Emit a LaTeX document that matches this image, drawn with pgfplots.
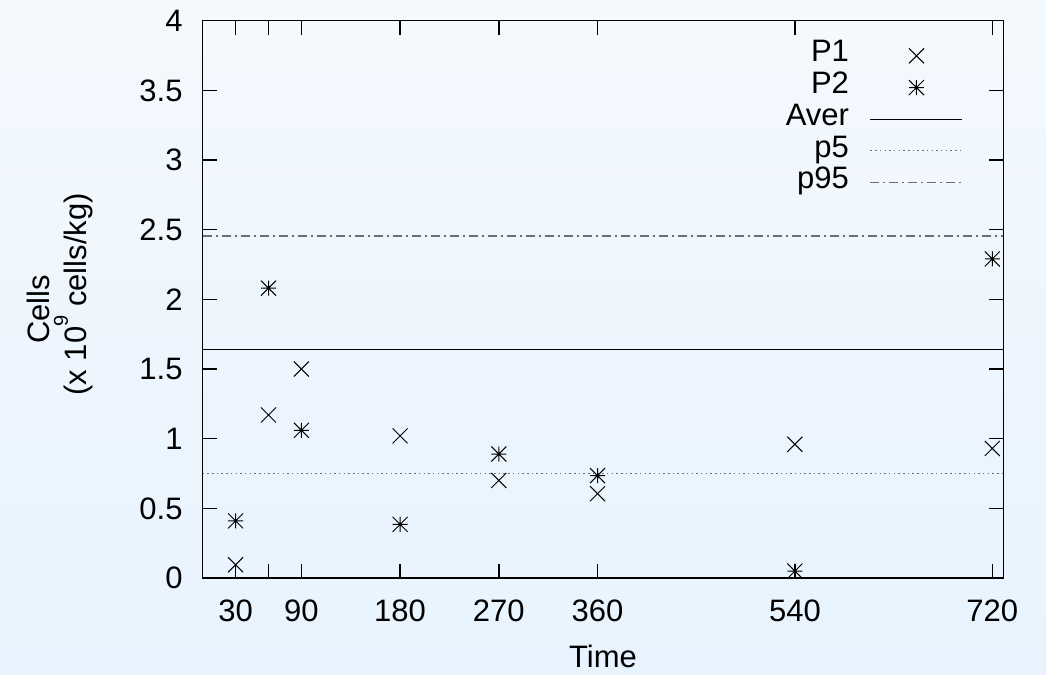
\documentclass[border=0pt]{standalone}
\usepackage{fontspec}
\setmainfont{Liberation Sans}
\usepackage{pgfplots}
\pgfplotsset{compat=1.18}

% gnuplot style marks: cross and eight-armed star
\pgfdeclareplotmark{gpx}{%
  \pgfpathmoveto{\pgfqpoint{-\pgfplotmarksize}{-\pgfplotmarksize}}%
  \pgfpathlineto{\pgfqpoint{\pgfplotmarksize}{\pgfplotmarksize}}%
  \pgfpathmoveto{\pgfqpoint{-\pgfplotmarksize}{\pgfplotmarksize}}%
  \pgfpathlineto{\pgfqpoint{\pgfplotmarksize}{-\pgfplotmarksize}}%
  \pgfusepathqstroke}
\pgfdeclareplotmark{gpstar}{%
  \pgfpathmoveto{\pgfqpoint{-\pgfplotmarksize}{-\pgfplotmarksize}}%
  \pgfpathlineto{\pgfqpoint{\pgfplotmarksize}{\pgfplotmarksize}}%
  \pgfpathmoveto{\pgfqpoint{-\pgfplotmarksize}{\pgfplotmarksize}}%
  \pgfpathlineto{\pgfqpoint{\pgfplotmarksize}{-\pgfplotmarksize}}%
  \pgfpathmoveto{\pgfqpoint{-\pgfplotmarksize}{0pt}}%
  \pgfpathlineto{\pgfqpoint{\pgfplotmarksize}{0pt}}%
  \pgfpathmoveto{\pgfqpoint{0pt}{-\pgfplotmarksize}}%
  \pgfpathlineto{\pgfqpoint{0pt}{\pgfplotmarksize}}%
  \pgfusepathqstroke}

\definecolor{bgtop}{RGB}{244,249,253}
\definecolor{bgbot}{RGB}{231,243,254}
\definecolor{gpgray}{RGB}{110,110,110}

\begin{document}
\begin{tikzpicture}
\useasboundingbox (-202.7bp,-97bp) rectangle (843.3bp,578bp);
\shade[top color=bgtop, bottom color=bgbot] (-202.7bp,-97bp) rectangle (843.3bp,578bp);
\begin{axis}[
    at={(0,0)}, anchor=south west,
    scale only axis,
    width=800.6bp, height=557.3bp,
    xmin=0, xmax=730,
    ymin=0, ymax=4,
    xtick={30,60,90,180,270,360,540,720},
    xticklabels={30,,90,180,270,360,540,720},
    ytick={0,0.5,...,4},
    /pgf/number format/assume math mode=true,
    tick align=inside,
    major tick length=14bp,
    tick style={line width=1.5bp, black},
    axis line style={line width=1.5bp},
    tick label style={font=\fontsize{31bp}{36bp}\selectfont, inner sep=0pt},
    xticklabel style={anchor=north, yshift=-22bp},
    yticklabel style={anchor=east, xshift=-20bp},
    xlabel={Time},
    xlabel style={at={(axis description cs:0.5,-0.1202)}, anchor=north,
      inner sep=0pt, font=\fontsize{31bp}{37bp}\selectfont},
    ylabel={Cells\hspace*{30bp}\\(x 10\raisebox{19bp}{\fontsize{20bp}{20bp}\selectfont 9} cells/kg)},
    ylabel style={at={(axis description cs:-0.1364,0.509)}, anchor=south,
      rotate=0, align=center, inner sep=0pt,
      font=\fontsize{31bp}{37bp}\selectfont},
    legend plot pos=right,
    legend cell align=right,
    legend image code/.code={\draw[mark repeat=2,mark phase=2,#1]
      plot coordinates {(0bp,0bp) (46bp,0bp) (92bp,0bp)};},
    legend style={at={(axis description cs:0.9497,0.9654)}, anchor=north east,
      draw=none, fill=none, inner sep=0pt, outer sep=0pt,
      row sep=0pt, column sep=21bp,
      font=\fontsize{31bp}{36bp}\selectfont,
      nodes={inner sep=0pt, text height=22bp, text depth=9.7bp}},
]
\addplot[only marks, mark=gpx, mark size=7.5bp, line width=1bp, black]
coordinates {
(30,0.095) (60,1.17) (90,1.50) (180,1.02) (270,0.70) (360,0.605) (540,0.96) (720,0.93)
};
\addlegendentry{P1}
\addplot[only marks, mark=gpstar, mark size=7.5bp, line width=1bp, black]
coordinates {
(30,0.41) (60,2.08) (90,1.06) (180,0.385) (270,0.89) (360,0.735) (540,0.05) (720,2.29)
};
\addlegendentry{P2}
\addplot[black, line width=1.1bp] coordinates {(0,1.64) (730,1.64)};
\addlegendentry{Aver}
\addplot[gpgray, line width=1.1bp, dash pattern=on 1.5bp off 3.2bp] coordinates {(0,0.75) (730,0.75)};
\addlegendentry{p5}
\addplot[gpgray, line width=1.1bp, dash pattern=on 9bp off 4bp on 2bp off 4bp] coordinates {(0,2.455) (730,2.455)};
\addlegendentry{p95}
\end{axis}
\end{tikzpicture}
\end{document}
